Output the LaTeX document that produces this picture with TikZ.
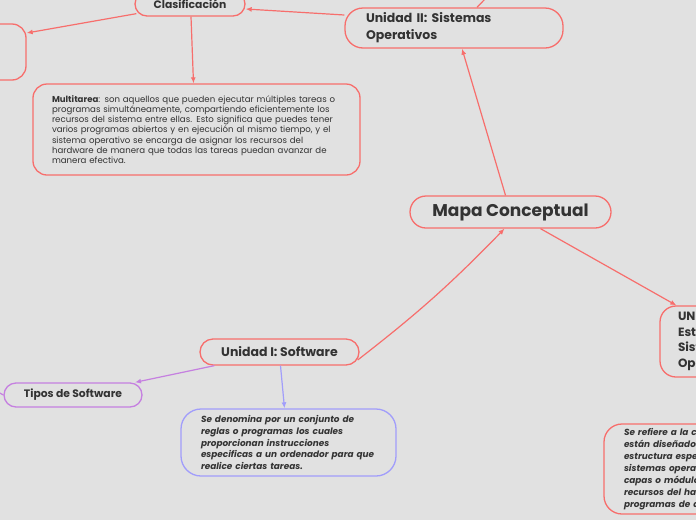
\documentclass[tikz,border=0pt]{standalone}
\usepackage{fontspec}
\setmainfont{Poppins}
\usetikzlibrary{arrows.meta,calc}
\definecolor{bg}{HTML}{E1E1E1}
\definecolor{rd}{HTML}{F76E6C}
\definecolor{pu}{HTML}{C580E0}
\definecolor{bl}{HTML}{A19DFB}
\definecolor{tx}{HTML}{333333}
\begin{document}
\begin{tikzpicture}[x=1pt,y=-1pt,
  box/.style={draw=#1, line width=1.3pt, fill=bg, text=tx, inner ysep=0pt},
  conn/.style={draw=#1, line width=1.2pt, -{Latex[length=6pt,width=5pt]}},
  plain/.style={draw=#1, line width=1.2pt}]
\useasboundingbox (0,0) rectangle (696,520);
\fill[bg] (0,0) rectangle (696,520);
\clip (0,0) rectangle (696,520);

% nodes
\node[box=rd, rounded corners=12pt, minimum width=110pt, minimum height=24pt, inner xsep=0pt, font=\fontsize{10.8}{12}\selectfont\bfseries] (clas) at (190,4) {Clasificación};
\node[box=rd, rounded corners=14pt, minimum width=56pt, minimum height=56pt] (lbox) at (-2,52) {};
\node[box=rd, rounded corners=18pt, minimum height=40pt, text width=176pt, inner xsep=21pt, align=left, font=\fontsize{12.5}{17}\selectfont\bfseries] (u2) at (454,28) {Unidad II: Sistemas\\Operativos};
\node[box=rd, rounded corners=14pt, minimum height=91pt, text width=289pt, inner xsep=19pt, align=left, font=\fontsize{8.6}{10.3}\selectfont] (multi) at (196.5,129.5) {\textbf{Multitarea}: son aquellos que pueden ejecutar múltiples tareas o\\programas simultáneamente, compartiendo eficientemente los\\recursos del sistema entre ellas. Esto significa que puedes tener\\varios programas abiertos y en ejecución al mismo tiempo, y el\\sistema operativo se encarga de asignar los recursos del\\hardware de manera que todas las tareas puedan avanzar de\\manera efectiva.};
\node[box=rd, rounded corners=16pt, minimum width=201pt, minimum height=32pt, font=\fontsize{17}{20}\selectfont\bfseries] (mapa) at (510.5,212) {Mapa Conceptual};
\node[box=rd, rounded corners=16pt, minimum height=71pt, text width=120pt, inner xsep=18pt, align=left, font=\fontsize{12}{15.5}\selectfont\bfseries] (u3) at (738,341.5) {UNIDAD III:\\Estructura\\Sistemas\\Operativos};
\node[box=rd, rounded corners=18pt, minimum height=90pt, text width=220pt, inner xsep=20pt, align=left, font=\fontsize{8.9}{11.9}\selectfont\bfseries\itshape] (estr) at (734,469) {Se refiere a la cómo los SO\\están diseñados con una\\estructura específica. Los\\sistemas operativos se dividen en\\capas o módulos que gestionan los\\recursos del hardware y los\\programas de aplicación.};
\node[box=rd, rounded corners=13pt, minimum width=159pt, minimum height=26pt, font=\fontsize{12.5}{14}\selectfont\bfseries] (u1) at (279.5,352) {Unidad I: Software};
\node[box=pu, rounded corners=12pt, minimum width=138pt, minimum height=24pt, font=\fontsize{10.8}{12}\selectfont\bfseries] (tipos) at (73,395) {Tipos de Software};
\node[box=bl, rounded corners=20pt, minimum height=67pt, text width=175pt, inner xsep=20pt, align=left, font=\fontsize{8.9}{11.8}\selectfont\bfseries\itshape] (desc) at (288.5,442.5) {Se denomina por un conjunto de\\reglas o programas los cuales\\proporcionan instrucciones\\especificas a un ordenador para que\\realice ciertas tareas.};

\coordinate (up) at (486,-2);
\coordinate (leftoff) at (-2,392);

% connectors
\draw[plain=rd] ([xshift=23pt]u2.north) -- (up);
\draw[conn=rd] ([xshift=-5pt]mapa.north) -- ([xshift=8pt]u2.south);
\draw[conn=rd] ([yshift=13pt]u2.west) -- ([yshift=-5pt]clas.east);
\draw[conn=rd] ([xshift=2pt,yshift=3pt]clas.south west) -- ([yshift=19pt]lbox.east);
\draw[conn=rd] ([xshift=1pt]clas.south) -- ([xshift=-3pt]multi.north);
\draw[conn=rd] ([xshift=-2pt,yshift=-8pt]u1.east) to[bend right=4] ([xshift=-6pt]mapa.south);
\draw[conn=rd] ([xshift=30pt]mapa.south) -- ([xshift=17pt]u3.north west);
\draw[conn=pu] ([xshift=15pt]u1.south west) -- ([xshift=62pt]tipos.north);
\draw[conn=bl] ([xshift=1pt]u1.south) -- ([xshift=-4pt]desc.north);
\draw[plain=pu] (tipos.west) -- (leftoff);
\end{tikzpicture}
\end{document}
